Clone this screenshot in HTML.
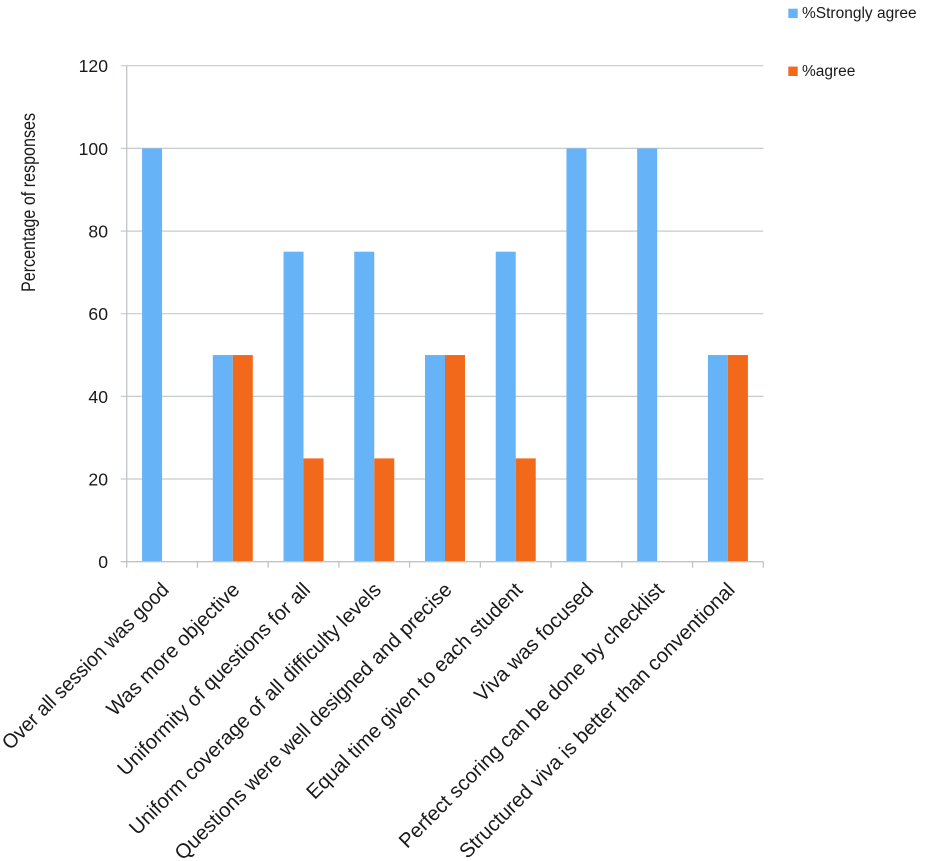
<!DOCTYPE html>
<html>
<head>
<meta charset="utf-8">
<style>
  html, body { margin: 0; padding: 0; background: #ffffff; }
  svg { display: block; }
  text { font-family: "Liberation Sans", Arial, sans-serif; fill: #1a1a1a; }
</style>
</head>
<body>
<svg width="930" height="861" viewBox="0 0 930 861" xmlns="http://www.w3.org/2000/svg">
  <rect x="0" y="0" width="930" height="861" fill="#ffffff"/>

  <!-- gridlines -->
  <g stroke="#c6cbcd" stroke-width="1.2">
    <line x1="120.7" y1="65.7" x2="763.3" y2="65.7"/>
    <line x1="120.7" y1="148.4" x2="763.3" y2="148.4"/>
    <line x1="120.7" y1="231.1" x2="763.3" y2="231.1"/>
    <line x1="120.7" y1="313.7" x2="763.3" y2="313.7"/>
    <line x1="120.7" y1="396.4" x2="763.3" y2="396.4"/>
    <line x1="120.7" y1="479.0" x2="763.3" y2="479.0"/>
  </g>

  <!-- bars: %Strongly agree -->
  <g fill="#66b3f7">
    <rect x="142.07" y="148.4" width="20" height="413.3"/>
    <rect x="212.8" y="355.05" width="20" height="206.65"/>
    <rect x="283.53" y="251.7" width="20" height="310"/>
    <rect x="354.26" y="251.7" width="20" height="310"/>
    <rect x="424.99" y="355.05" width="20" height="206.65"/>
    <rect x="495.72" y="251.7" width="20" height="310"/>
    <rect x="566.45" y="148.4" width="20" height="413.3"/>
    <rect x="637.18" y="148.4" width="20" height="413.3"/>
    <rect x="707.91" y="355.05" width="20" height="206.65"/>
  </g>
  <!-- bars: %agree -->
  <g fill="#f2691c">
    <rect x="232.8" y="355.05" width="20" height="206.65"/>
    <rect x="303.53" y="458.4" width="20" height="103.3"/>
    <rect x="374.26" y="458.4" width="20" height="103.3"/>
    <rect x="444.99" y="355.05" width="20" height="206.65"/>
    <rect x="515.72" y="458.4" width="20" height="103.3"/>
    <rect x="727.91" y="355.05" width="20" height="206.65"/>
  </g>

  <!-- axes -->
  <g stroke="#bfc4c6" stroke-width="1.3">
    <line x1="126.7" y1="65.7" x2="126.7" y2="561.7"/>
    <line x1="120.7" y1="561.7" x2="763.3" y2="561.7"/>
    <line x1="126.7" y1="561.7" x2="126.7" y2="567.7"/>
    <line x1="197.43" y1="561.7" x2="197.43" y2="567.7"/>
    <line x1="268.16" y1="561.7" x2="268.16" y2="567.7"/>
    <line x1="338.89" y1="561.7" x2="338.89" y2="567.7"/>
    <line x1="409.62" y1="561.7" x2="409.62" y2="567.7"/>
    <line x1="480.35" y1="561.7" x2="480.35" y2="567.7"/>
    <line x1="551.08" y1="561.7" x2="551.08" y2="567.7"/>
    <line x1="621.81" y1="561.7" x2="621.81" y2="567.7"/>
    <line x1="692.54" y1="561.7" x2="692.54" y2="567.7"/>
    <line x1="763.3" y1="561.7" x2="763.3" y2="567.7"/>
  </g>

  <!-- y tick labels -->
  <g font-size="17.6" text-anchor="end">
    <text x="108" y="72.2">120</text>
    <text x="108" y="154.9">100</text>
    <text x="108" y="237.6">80</text>
    <text x="108" y="320.2">60</text>
    <text x="108" y="402.9">40</text>
    <text x="108" y="485.5">20</text>
    <text x="108" y="568.2">0</text>
  </g>

  <!-- y axis title -->
  <text transform="translate(35,202.5) rotate(-90)" text-anchor="middle" font-size="19.5" textLength="179" lengthAdjust="spacingAndGlyphs">Percentage of responses</text>

  <!-- x category labels -->
  <g font-size="20.4" text-anchor="end">
    <text transform="translate(170.1,591) rotate(-45)" textLength="226" lengthAdjust="spacingAndGlyphs">Over all session was good</text>
    <text transform="translate(240.8,591) rotate(-45)">Was more objective</text>
    <text transform="translate(311.5,591) rotate(-45)">Uniformity of questions for all</text>
    <text transform="translate(382.3,591) rotate(-45)">Uniform coverage of all difficulty levels</text>
    <text transform="translate(453.0,591) rotate(-45)">Questions were well designed and precise</text>
    <text transform="translate(523.8,591) rotate(-45)">Equal time given to each student</text>
    <text transform="translate(594.5,591) rotate(-45)">Viva was focused</text>
    <text transform="translate(665.2,591) rotate(-45)">Perfect scoring can be done by checklist</text>
    <text transform="translate(736.0,591) rotate(-45)">Structured viva is better than conventional</text>
  </g>

  <!-- legend -->
  <rect x="788.3" y="8.7" width="9.4" height="9.4" fill="#66b3f7"/>
  <text x="802" y="18.2" font-size="15.5">%Strongly agree</text>
  <rect x="788.3" y="66.6" width="9.4" height="9.4" fill="#f2691c"/>
  <text x="802" y="75.8" font-size="15.5">%agree</text>
</svg>
</body>
</html>
